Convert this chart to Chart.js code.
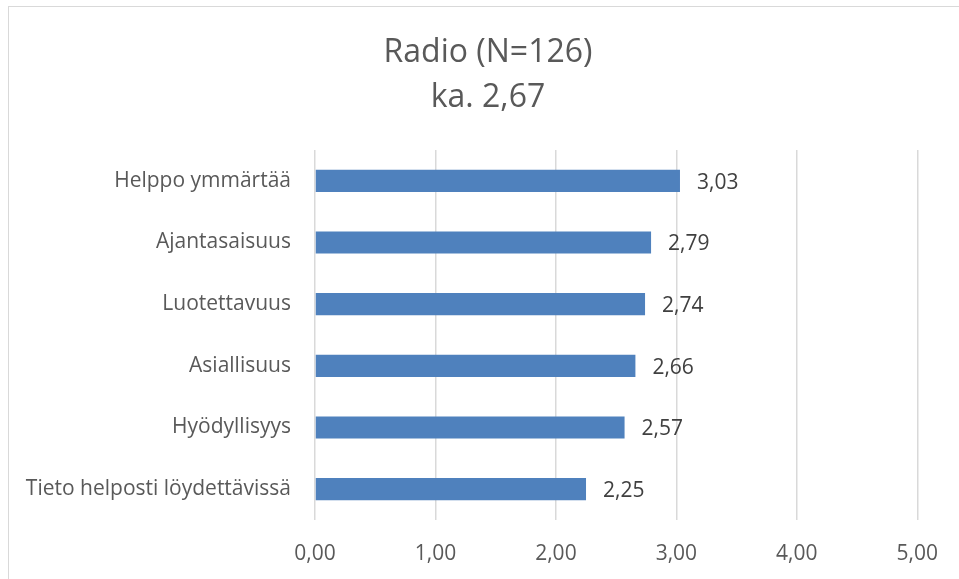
<!DOCTYPE html>
<html>
<head>
<meta charset="utf-8">
<script src="https://cdn.jsdelivr.net/npm/chart.js@4/dist/chart.umd.min.js"></script>
<style>
html,body{margin:0;padding:0;background:#fff;overflow:hidden;}
#wrap{position:relative;width:959px;height:579px;}
</style>
</head>
<body>
<div id="wrap"><canvas id="c" width="959" height="579"></canvas></div>
<script>
const titleLines = ["Radio (N=126)", "ka. 2,67"];
const categories = ["Helppo ymmärtää", "Ajantasaisuus", "Luotettavuus", "Asiallisuus", "Hyödyllisyys", "Tieto helposti löydettävissä"];
const values = [3.03, 2.79, 2.74, 2.66, 2.57, 2.25];
const xMin = 0, xMax = 5, xStep = 1;

const fmt = v => Number(v).toFixed(2).replace('.', ',');
const FONT = "'Open Sans', sans-serif";

const frame = {
  id: 'frame',
  beforeDraw(chart) {
    const ctx = chart.ctx;
    ctx.save();
    ctx.fillStyle = '#fff';
    ctx.fillRect(0, 0, chart.width, chart.height);
    ctx.strokeStyle = '#d9d9d9';
    ctx.lineWidth = 1;
    ctx.strokeRect(8.5, 6.5, 2000, 2000);
    ctx.restore();
  }
};

const titleDraw = {
  id: 'titleDraw',
  afterDraw(chart) {
    const ctx = chart.ctx;
    ctx.save();
    ctx.font = "32px " + FONT;
    ctx.fillStyle = '#595959';
    ctx.textAlign = 'center';
    ctx.textBaseline = 'middle';
    const cx = 488, y0 = 53, lh = 45;
    titleLines.forEach((t, i) => ctx.fillText(t, cx, y0 + i * lh));
    ctx.restore();
  }
};

const dataLabels = {
  id: 'dataLabels',
  afterDatasetsDraw(chart) {
    const ctx = chart.ctx;
    const meta = chart.getDatasetMeta(0);
    ctx.save();
    ctx.font = "21px " + FONT;
    ctx.fillStyle = '#404040';
    ctx.textAlign = 'left';
    ctx.textBaseline = 'middle';
    meta.data.forEach((el, i) => {
      ctx.fillText(fmt(chart.data.datasets[0].data[i]), el.x + 17, el.y + 2);
    });
    ctx.restore();
  }
};

new Chart(document.getElementById('c'), {
  type: 'bar',
  data: {
    labels: categories,
    datasets: [{
      data: values,
      backgroundColor: '#4F81BD',
      borderWidth: 0,
      barPercentage: 0.36,
      categoryPercentage: 1
    }]
  },
  options: {
    indexAxis: 'y',
    responsive: false,
    animation: false,
    devicePixelRatio: 1,
    layout: { padding: { left: 0, right: 41, top: 150, bottom: 0 } },
    plugins: {
      legend: { display: false },
      tooltip: { enabled: false },
      title: { display: false }
    },
    scales: {
      x: {
        min: xMin, max: xMax,
        ticks: {
          stepSize: xStep,
          callback: v => fmt(v),
          color: '#595959',
          font: { family: FONT, size: 21 },
          padding: 21
        },
        grid: { color: '#d9d9d9', lineWidth: 1.5, drawTicks: false },
        border: { display: false },
        afterFit(scale) { scale.height = 59; }
      },
      y: {
        ticks: {
          color: '#595959',
          font: { family: FONT, size: 21 },
          padding: 24
        },
        grid: { display: false, drawTicks: false },
        border: { display: false },
        afterFit(scale) { scale.width = 315; }
      }
    }
  },
  plugins: [frame, dataLabels, titleDraw]
});
</script>
</body>
</html>
